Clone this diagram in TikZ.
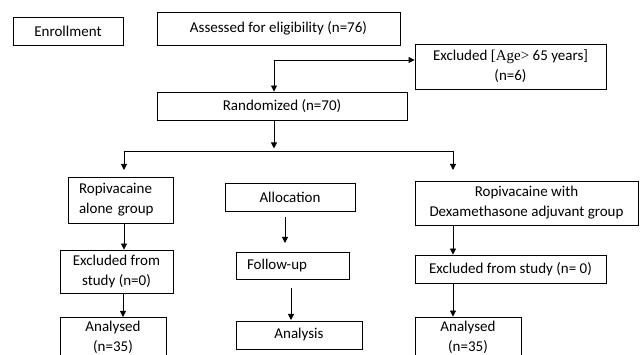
\documentclass[tikz,border=0pt]{standalone}
\usepackage{fontspec}
\setmainfont{Carlito}
\newfontfamily\timesf{Liberation Serif}
\usepackage{tikz}
\usetikzlibrary{arrows.meta,positioning}
\tikzset{
  box/.style={draw, line width=0.9pt, inner sep=0pt, align=center,
    font=\fontsize{15}{20}\selectfont},
}

\begin{document}
\begin{tikzpicture}[x=1pt,y=-1pt,line width=0.9pt,>={Triangle[length=6pt,width=6pt]}]
    \useasboundingbox (0,0) rectangle (640,355);
    \clip (0,0) rectangle (640,355);

    \path
    (68,31) node[box,minimum width=110pt,minimum height=28pt] (enroll) {Enrollment}
    (278.5,28.5) node[box,minimum width=243pt,minimum height=33pt] (assess) {Assessed for eligibility (n=76)}
    (510.5,66.5) node[box,minimum width=191pt,minimum height=45pt] (excl) {Excluded {\timesf[Age>} 65 years]\\(n=6)}
    (282,106) node[box,minimum width=250pt,minimum height=28pt] (rand) {Randomized (n=70)}
    ;

    \path
    (120.5,200) node[box,minimum width=105pt,minimum height=46pt,text width=83pt,align=left,inner xsep=11pt] (ropa) {Ropivacaine\\alone group}
    (290,197) node[box,minimum width=130pt,minimum height=28pt] (alloc) {Allocation}
    (526.5,203) node[box,minimum width=223pt,minimum height=44pt] (ropd) {Ropivacaine with\\Dexamethasone adjuvant group}
    ;

    \path
    (116.5,271.5) node[box,minimum width=113pt,minimum height=43pt] (exa) {Excluded from\\study (n=0)}
    (292.5,265.5) node[box,minimum width=113pt,minimum height=27pt,text width=91pt,align=left,inner xsep=11pt] (fol) {Follow-up}
    (510.5,269) node[box,minimum width=191pt,minimum height=28pt] (exd) {Excluded from study (n= 0)}
    ;

    \path
    (113,337) node[box,minimum width=106pt,minimum height=40pt] (ana) {Analysed\\(n=35)}
    (299,335) node[box,minimum width=126pt,minimum height=28pt] (anl) {Analysis}
    (468,337) node[box,minimum width=106pt,minimum height=40pt] (and) {Analysed\\(n=35)}
    ;

    % screening
    \coordinate (split) at (274,60);
    \draw[->] (split) -- (split |- rand.north);
    \draw[->] (split) -- (split -| excl.west);

    % branches
    \coordinate (bl) at (124,151);
    \coordinate (br) at (453,151);
    \draw[->] (split |- rand.south) -- ++(0,28);
    \draw (bl) -- (br);
    \draw[->] (bl) -- ++(0,19);
    \draw[->] (br) -- ++(0,19);

    % left arm
    \draw[->] (bl |- ropa.south) -- (bl |- exa.north);
    \draw[->] (123,293) -- (123,317);

    % middle
    \draw[->] (285,217) -- (285,243);
    \draw[->] (291,288) -- (291,320);

    % right arm
    \draw[->] (br |- ropd.south) -- (br |- exd.north);
    \draw[->] (br |- exd.south) -- (br |- and.north);
  \end{tikzpicture}
\end{document}
